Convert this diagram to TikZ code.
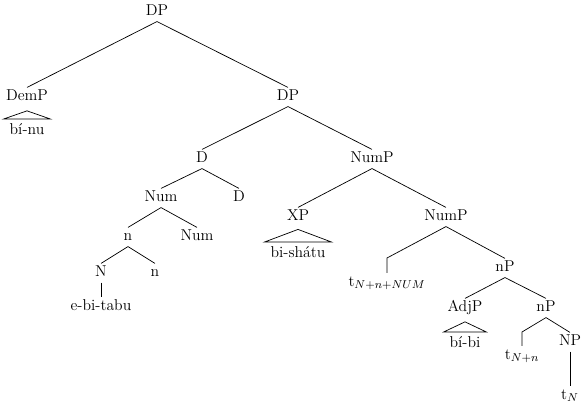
\documentclass[tikz,border=0pt]{standalone}
\begin{document}
\begin{tikzpicture}[x=0.7pt,y=-0.7pt,
  lbl/.style={inner sep=2pt, text height=7pt, text depth=2pt, font=\fontsize{11}{13}\selectfont},
  leaf/.style={lbl, inner xsep=4pt, text height=9pt},
  trace/.style={lbl, anchor=north},
  br/.style={line width=0.5pt}]
\useasboundingbox (0,0) rectangle (582,403);
% nodes
\node[lbl] (DP0) at (157,12) {DP};
\node[lbl] (DemP) at (27,97) {DemP};
\node[leaf] (binu) at (27,130) {bí-nu};
\node[lbl] (DP1) at (288,97) {DP};
\node[lbl] (D1) at (202,159) {D};
\node[lbl] (NumP1) at (372,159) {NumP};
\node[lbl] (Num1) at (161,198) {Num};
\node[lbl] (D2) at (239,198) {D};
\node[lbl] (XP) at (298,217) {XP};
\node[leaf] (bishatu) at (298,253) {bi-shátu};
\node[lbl] (NumP2) at (446,217) {NumP};
\node[lbl] (n1) at (128,237) {n};
\node[lbl] (Num2) at (197,237) {Num};
\node[lbl] (N) at (101,273) {N};
\node[lbl] (n2) at (155,273) {n};
\node[lbl] (ebitabu) at (101,307) {e-bi-tabu};
\coordinate (c1) at (387,258);
\node[trace] (t1) at (387,273) {t$_{N+n+NUM}$};
\node[lbl] (nP1) at (505,268) {nP};
\node[lbl] (AdjP) at (465,308) {AdjP};
\node[leaf] (bibi) at (465,343) {bí-bi};
\node[lbl] (nP2) at (546,308) {nP};
\coordinate (c2) at (522,332);
\node[trace] (t2) at (522,346) {t$_{N+n}$};
\node[lbl] (NP) at (570,342) {NP};
\node[trace] (t3) at (570,386) {t$_{N}$};
% branches
\draw[br] (DP0.south) -- (DemP.north);
\draw[br] (DP0.south) -- (DP1.north);
\draw[br] ([yshift=-3pt]DemP.south) -- (binu.north west) -- (binu.north east) -- cycle;
\draw[br] (DP1.south) -- (D1.north);
\draw[br] (DP1.south) -- (NumP1.north);
\draw[br] (D1.south) -- (Num1.north);
\draw[br] (D1.south) -- (D2.north);
\draw[br] (NumP1.south) -- (XP.north);
\draw[br] (NumP1.south) -- (NumP2.north);
\draw[br] ([yshift=-2pt]XP.south) -- (bishatu.north west) -- (bishatu.north east) -- cycle;
\draw[br] (Num1.south) -- (n1.north);
\draw[br] (Num1.south) -- (Num2.north);
\draw[br] (n1.south) -- (N.north);
\draw[br] (n1.south) -- (n2.north);
\draw[br] (N.south) -- (ebitabu.north);
\draw[br] (NumP2.south) -- (c1) -- (t1.north);
\draw[br] (NumP2.south) -- (nP1.north);
\draw[br] (nP1.south) -- (AdjP.north);
\draw[br] (nP1.south) -- (nP2.north);
\draw[br] ([yshift=-3pt]AdjP.south) -- (bibi.north west) -- (bibi.north east) -- cycle;
\draw[br] (nP2.south) -- (c2) -- (t2.north);
\draw[br] (nP2.south) -- (NP.north);
\draw[br] (NP.south) -- (t3.north);
\end{tikzpicture}
\end{document}
